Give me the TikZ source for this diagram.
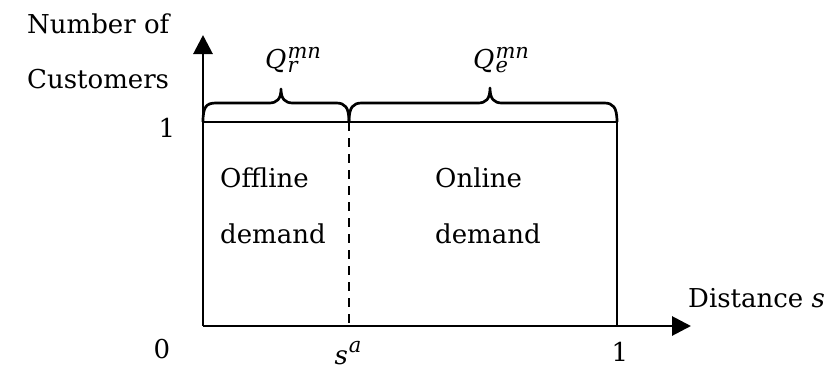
\documentclass[tikz,border=0pt]{standalone}
\usepackage{fontspec}
\setmainfont{DejaVu Serif}
\usetikzlibrary{arrows.meta}
\newcommand\qlabel[1]{{\itshape Q\kern1pt\makebox[0pt][l]{\raisebox{-4pt}{\fontsize{21}{21}\selectfont #1}}\raisebox{10pt}{\fontsize{21}{21}\selectfont mn}}}
\newcommand\salabel{{\itshape s\kern1pt\raisebox{12pt}{\fontsize{21}{21}\selectfont a}}}
\begin{document}
\begin{tikzpicture}[x=1pt,y=-1pt,
  lbl/.style={inner sep=0pt,font=\fontsize{26}{30}\selectfont},
  axis/.style={line width=2.9pt,-{Triangle[length=19pt,width=19pt]}},
  edge/.style={line width=2.7pt},
  bracestyle/.style={line width=2.7pt,line join=round},
  dashline/.style={line width=2.5pt,dash pattern=on 9pt off 7pt}]
\useasboundingbox (0,0) rectangle (836,370);
% coordinates
\coordinate (O) at (203,326);
\coordinate (Ytip) at (203,35);
\coordinate (Xtip) at (691,326);
\coordinate (Y1) at (203,122);
\coordinate (X1top) at (617,122);
\coordinate (X1) at (617,326);
\coordinate (Satop) at (349,122);
\coordinate (Sa) at (349,326);
% axes
\draw[axis] (O) -- (Ytip);
\draw[axis] (O) -- (Xtip);
% level and boundaries
\draw[edge] (Y1) -- (X1top) -- (X1);
\draw[dashline] (Satop) -- (Sa);
% braces
\draw[bracestyle] (Y1) .. controls (203,107) and (206,103) .. (216,103) -- (269,103)
  .. controls (277,103) and (281,99) .. (281,89)
  .. controls (281,99) and (285,103) .. (293,103) -- (336,103)
  .. controls (345,103) and (349,107) .. (Satop);
\draw[bracestyle] (Satop) .. controls (349,107) and (353,103) .. (362,103) -- (478,103)
  .. controls (486,103) and (490,99) .. (490,88)
  .. controls (490,99) and (494,103) .. (502,103) -- (604,103)
  .. controls (613,103) and (617,107) .. (X1top);
% labels
\node[lbl,anchor=base west] (ylabA) at (27,33) {Number of};
\node[lbl,anchor=base west] (ylabB) at (27,88) {Customers};
\node[lbl,anchor=base] (oneY) at (167,137) {1};
\node[lbl,anchor=base] (zero) at (162,358) {0};
\node[lbl,anchor=base] (sa) at (348,364) {\salabel};
\node[lbl,anchor=base] (oneX) at (620,361) {1};
\node[lbl,anchor=base west] (dist) at (688,307) {Distance {\itshape s}};
\node[lbl,anchor=base west] (offA) at (220,187) {Offline};
\node[lbl,anchor=base west] (offB) at (220,243) {demand};
\node[lbl,anchor=base west] (onA) at (435,187) {Online};
\node[lbl,anchor=base west] (onB) at (435,243) {demand};
\node[lbl,anchor=base west] (qr) at (265,68) {\qlabel{r}};
\node[lbl,anchor=base west] (qe) at (473,68) {\qlabel{e}};
\end{tikzpicture}
\end{document}
